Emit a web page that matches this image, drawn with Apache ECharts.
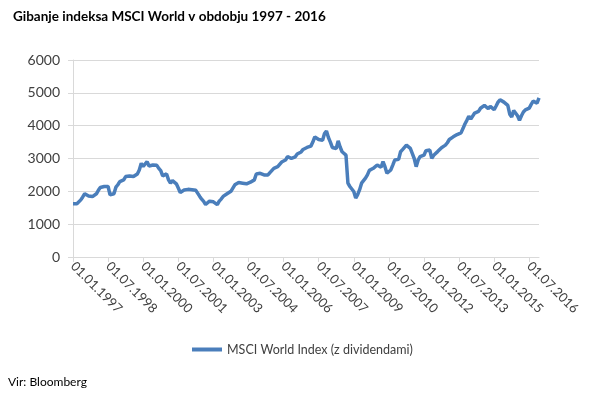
<!DOCTYPE html>
<html lang="sl">
<head>
    <meta charset="UTF-8">
    <title>Gibanje indeksa MSCI World</title>
    <script src="https://cdn.jsdelivr.net/npm/echarts@6/dist/echarts.min.js"></script>
    <style>
        html, body, #content {
            width: 100%;
            height: 100%;
            margin: 0;
            background: #fff;
        }
    </style>
</head>
<body>
    <div id="content"></div>
    <script>
        // mesečne vrednosti, jan 1997 - dec 2016 (odčitano s slike)
        var startYear = 1997;
        var values1997_2001 = [
            1620, 1610, 1620, 1650, 1740, 1830, 1925, 1895, 1860, 1845, 1840, 1850,
            1925, 2030, 2117, 2140, 2147, 2150, 2147, 1895, 1900, 1925, 2127, 2200,
            2298, 2320, 2350, 2450, 2460, 2470, 2455, 2450, 2490, 2530, 2650, 2853,
            2760, 2800, 2903, 2770, 2760, 2802, 2800, 2792, 2700, 2631, 2470, 2500,
            2530, 2350, 2248, 2328, 2300, 2228, 2100, 1966, 2000, 2040, 2087, 2060
        ];
        var values2002_2006 = [
            2026, 2050, 2077, 2030, 1996, 1845, 1760, 1693, 1600, 1542, 1700, 1724,
            1680, 1620, 1593, 1700, 1764, 1845, 1880, 1925, 1960, 2000, 2026, 2198,
            2240, 2268, 2260, 2248, 2240, 2228, 2250, 2278, 2320, 2349, 2530, 2540,
            2550, 2520, 2500, 2470, 2500, 2570, 2620, 2701, 2730, 2752, 2800, 2893,
            2930, 2953, 3054, 3030, 3004, 2973, 3050, 3135, 3150, 3200, 3276, 3300
        ];
        var values2007_2011 = [
            3336, 3360, 3377, 3500, 3659, 3600, 3578, 3565, 3558, 3760, 3840, 3639,
            3500, 3336, 3310, 3306, 3538, 3350, 3205, 3150, 3105, 2248, 2147, 2127,
            1996, 1794, 1900, 2050, 2248, 2298, 2400, 2500, 2640, 2690, 2701, 2750,
            2802, 2760, 2732, 2903, 2750, 2550, 2600, 2651, 2800, 2953, 2960, 2973,
            3205, 3270, 3306, 3407, 3350, 3306, 3155, 3000, 2752, 2950, 3054, 3004
        ];
        var values2012_2016 = [
            3100, 3236, 3250, 3256, 3004, 3100, 3155, 3210, 3256, 3330, 3357, 3407,
            3480, 3578, 3620, 3659, 3700, 3730, 3750, 3780, 3911, 4050, 4163, 4284,
            4200, 4163, 4385, 4410, 4435, 4530, 4586, 4616, 4560, 4516, 4586, 4540,
            4486, 4600, 4717, 4788, 4750, 4717, 4680, 4616, 4350, 4264, 4465, 4415,
            4300, 4163, 4300, 4415, 4480, 4496, 4536, 4650, 4748, 4720, 4687, 4848
        ];
        var values = values1997_2001.concat(values2002_2006, values2007_2011, values2012_2016);

        // datumi kot oznake kategorij: 01.MM.LLLL
        var dates = values.map(function (v, i) {
            var m = (i % 12) + 1;
            var y = startYear + Math.floor(i / 12);
            return '01.' + (m < 10 ? '0' + m : m) + '.' + y;
        });

        var seriesName = 'MSCI World Index (z dividendami)';
        var titleText = 'Gibanje indeksa MSCI World v obdobju 1997 - 2016';
        var sourceText = 'Vir: Bloomberg';

        var chart = echarts.init(document.getElementById('content'));
        chart.setOption({
            animation: false,
            textStyle: { fontFamily: 'Lato' },
            title: {
                text: titleText,
                left: 8,
                top: 5,
                textStyle: { fontSize: 13.5, fontWeight: 'bold', color: '#000', fontFamily: 'Lato' }
            },
            grid: { left: 73, right: 61, top: 60, bottom: 142, containLabel: false },
            legend: {
                data: [seriesName],
                bottom: 38,
                left: 187,
                icon: 'rect',
                itemWidth: 30,
                itemHeight: 4,
                itemGap: 4,
                textStyle: { fontSize: 12.5, color: '#404040', fontFamily: 'Lato' }
            },
            xAxis: {
                type: 'category',
                data: dates,
                boundaryGap: false,
                axisLine: { lineStyle: { color: '#d9d9d9' } },
                axisTick: { interval: 17, length: 5, lineStyle: { color: '#d9d9d9' } },
                axisLabel: {
                    interval: 17,
                    rotate: -45,
                    fontSize: 13,
                    color: '#404040',
                    margin: 7
                },
                splitLine: { show: false }
            },
            yAxis: {
                type: 'value',
                min: 0,
                max: 6000,
                interval: 1000,
                axisLine: { show: true, lineStyle: { color: '#d9d9d9' } },
                axisTick: { show: true, length: 5, lineStyle: { color: '#d9d9d9' } },
                axisLabel: {
                    fontSize: 14,
                    color: '#404040',
                    margin: 13,
                    formatter: function (v) { return String(v); }
                },
                splitLine: { lineStyle: { color: '#d9d9d9' } }
            },
            series: [{
                name: seriesName,
                type: 'line',
                data: values,
                showSymbol: false,
                lineStyle: { color: '#4a7ebb', width: 3.5 },
                itemStyle: { color: '#4a7ebb' }
            }],
            graphic: [{
                type: 'text',
                left: 8,
                top: 376,
                style: { text: sourceText, fontSize: 12, fill: '#000', fontFamily: 'Lato' }
            }]
        });
        window.onresize = chart.resize;
    </script>
</body>
</html>
